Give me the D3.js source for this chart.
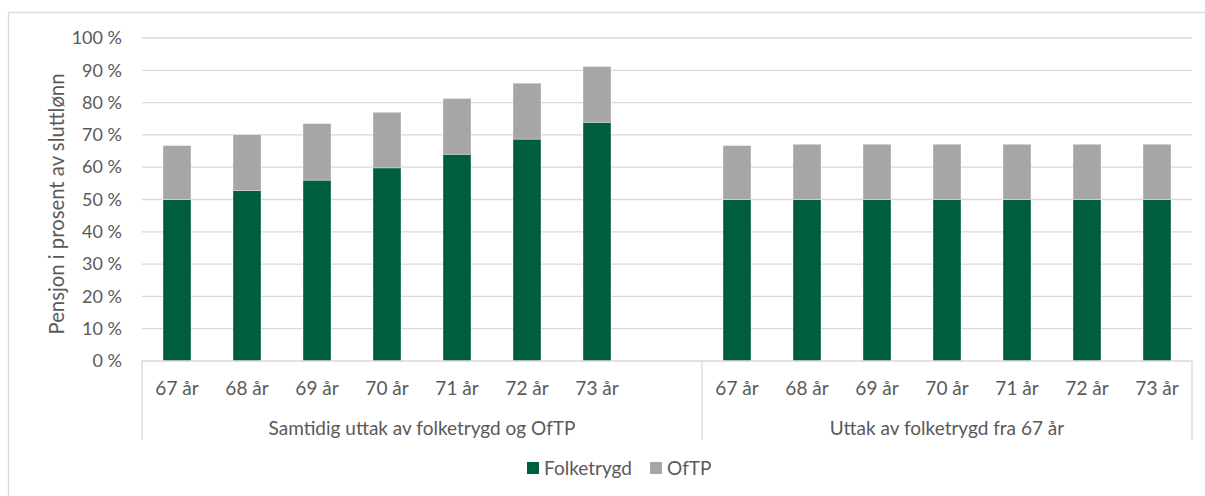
<!DOCTYPE html>
<html>
<head>
<meta charset="utf-8">
<script src="https://cdn.jsdelivr.net/npm/d3@7"></script>
<style>
  body { margin: 0; background: #fff; }
  text { font-family: Lato, "Open Sans", sans-serif; fill: #595959; }
</style>
</head>
<body>
<div id="chart"></div>
<script>
// values (percent of final salary)
var ages = ["67 år", "68 år", "69 år", "70 år", "71 år", "72 år", "73 år"];
var groupNames = ["Samtidig uttak av folketrygd og OfTP", "Uttak av folketrygd fra 67 år"];
var folketrygdSamtidig = [50.0, 52.8, 56.0, 59.8, 64.0, 68.7, 73.9];
var oftpSamtidig = [16.7, 17.3, 17.5, 17.2, 17.3, 17.3, 17.3];
var folketrygdFra67 = [50.0, 50.0, 50.0, 50.0, 50.0, 50.0, 50.0];
var oftpFra67 = [16.7, 17.1, 17.1, 17.1, 17.1, 17.1, 17.1];
var seriesNames = ["Folketrygd", "OfTP"];
var yTicks = [0, 10, 20, 30, 40, 50, 60, 70, 80, 90, 100];

var colors = {"Folketrygd": "#005e3d", "OfTP": "#a6a6a6"};

// build rows: group 1, one empty slot, group 2
var rows = [];
ages.forEach(function(a, i) {
    rows.push({key: "s" + i, age: a, group: 0, Folketrygd: folketrygdSamtidig[i], OfTP: oftpSamtidig[i]});
});
rows.push({key: "gap", age: "", group: -1, Folketrygd: 0, OfTP: 0});
ages.forEach(function(a, i) {
    rows.push({key: "f" + i, age: a, group: 1, Folketrygd: folketrygdFra67[i], OfTP: oftpFra67[i]});
});

var W = 1205, H = 496;
var margin = {top: 38, right: 13, bottom: 135, left: 142};

var svg = d3.select("#chart").append("svg")
    .attr("width", W)
    .attr("height", H);

// outer frame (cut off at right and bottom like the picture)
svg.append("rect")
    .attr("x", 8.5).attr("y", 12.5)
    .attr("width", W + 10).attr("height", H + 10)
    .attr("fill", "none")
    .attr("stroke", "#d9d9d9")
    .attr("stroke-width", 1.3);

var x = d3.scaleBand()
    .domain(rows.map(function(d) { return d.key; }))
    .range([margin.left, W - margin.right])
    .paddingInner(0.6)
    .paddingOuter(0.3);

var y = d3.scaleLinear()
    .domain([0, 100])
    .range([361, margin.top]);

// gridlines
svg.append("g")
    .selectAll("line")
    .data(yTicks.slice(1))
    .enter().append("line")
    .attr("x1", margin.left).attr("x2", W - margin.right)
    .attr("y1", function(d) { return y(d); })
    .attr("y2", function(d) { return y(d); })
    .attr("stroke", "#d9d9d9")
    .attr("stroke-width", 1.3);

// y axis labels
var yAxis = d3.axisLeft(y)
    .tickValues(yTicks)
    .tickSize(0)
    .tickPadding(20)
    .tickFormat(function(d) { return d + " %"; });
var gy = svg.append("g")
    .attr("transform", "translate(" + margin.left + ",0)")
    .call(yAxis);
gy.select(".domain").remove();
gy.selectAll("text")
    .style("font-size", "18px")
    .attr("fill", "#595959");

// stacked bars
var stack = d3.stack().keys(seriesNames);
var stacked = stack(rows.filter(function(d) { return d.group >= 0; }));

svg.append("g")
    .selectAll("g")
    .data(stacked)
    .enter().append("g")
    .attr("fill", function(d) { return colors[d.key]; })
    .selectAll("rect")
    .data(function(d) { return d; })
    .enter().append("rect")
    .attr("x", function(d) { return x(d.data.key); })
    .attr("width", x.bandwidth())
    .attr("y", function(d) { return y(d[1]); })
    .attr("height", function(d) { return y(d[0]) - y(d[1]); })
    .attr("stroke", "rgba(255,255,255,0.45)")
    .attr("stroke-width", 0.8);

// category axis: baseline + group dividers
var axisY = y(0);
var half = (x.step() - x.bandwidth()) / 2;
var dividers = [x("s0") - half, x("f0") - half, x("f6") + x.bandwidth() + half];
svg.append("line")
    .attr("x1", margin.left).attr("x2", W - margin.right)
    .attr("y1", axisY).attr("y2", axisY)
    .attr("stroke", "#d9d9d9").attr("stroke-width", 1.3);
svg.append("g")
    .selectAll("line")
    .data(dividers)
    .enter().append("line")
    .attr("x1", function(d) { return d; }).attr("x2", function(d) { return d; })
    .attr("y1", axisY).attr("y2", 440)
    .attr("stroke", "#d9d9d9").attr("stroke-width", 1.3);

// age labels
svg.append("g")
    .selectAll("text")
    .data(rows.filter(function(d) { return d.group >= 0; }))
    .enter().append("text")
    .attr("x", function(d) { return x(d.key) + x.bandwidth() / 2; })
    .attr("y", 388)
    .attr("dy", "0.35em")
    .attr("text-anchor", "middle")
    .style("font-size", "19px")
    .text(function(d) { return d.age; });

// group labels
svg.append("g")
    .selectAll("text")
    .data(groupNames)
    .enter().append("text")
    .attr("x", function(d, i) { return (dividers[i] + dividers[i + 1]) / 2; })
    .attr("y", 428)
    .attr("dy", "0.35em")
    .attr("text-anchor", "middle")
    .style("font-size", "19px")
    .text(function(d) { return d; });

// y title
svg.append("text")
    .attr("transform", "translate(57," + 204 + ") rotate(-90)")
    .attr("text-anchor", "middle")
    .attr("dy", "0.35em")
    .style("font-size", "20.3px")
    .text("Pensjon i prosent av sluttlønn");

// legend
var legendX = [527, 650];
var leg = svg.append("g")
    .selectAll("g")
    .data(seriesNames)
    .enter().append("g")
    .attr("transform", function(d, i) { return "translate(" + legendX[i] + ",468)"; });
leg.append("rect")
    .attr("x", 0).attr("y", -6)
    .attr("width", 12).attr("height", 12)
    .attr("fill", function(d) { return colors[d]; });
leg.append("text")
    .attr("x", 17)
    .attr("dy", "0.35em")
    .style("font-size", "19px")
    .text(function(d) { return d; });
</script>
</body>
</html>
